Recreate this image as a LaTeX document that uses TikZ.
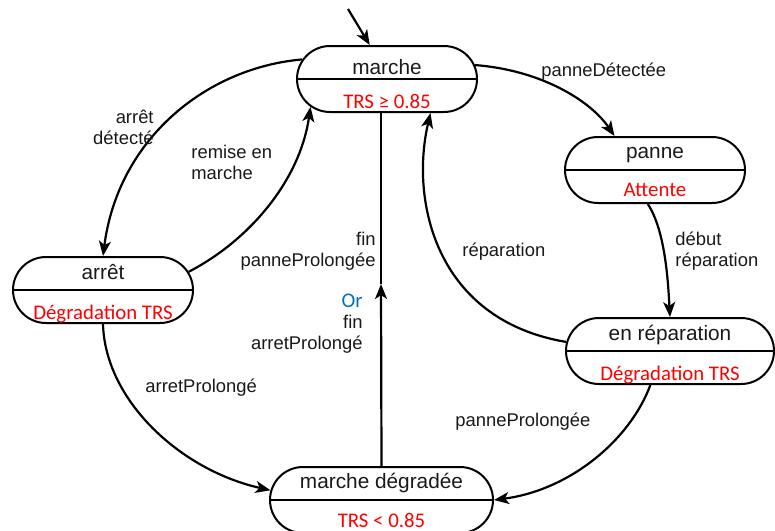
\documentclass[tikz,border=0pt]{standalone}
\usepackage{fontspec}
\setmainfont{Liberation Sans}
\newfontfamily\calibri{Carlito}
\usetikzlibrary{arrows.meta, shapes.misc, calc}
\definecolor{condred}{RGB}{255, 0, 0}
\definecolor{orblue}{RGB}{0, 112, 192}
\definecolor{darkgray}{RGB}{25, 25, 25}

\begin{document}
\begin{tikzpicture}[
        x=0.5pt, y=-0.5pt,
        etat/.style={rounded rectangle, draw, line width=1pt, minimum width=90pt, minimum height=33pt, inner sep=0pt},
        titre/.style={anchor=base, inner sep=0pt, text=darkgray, font=\fontsize{10.4}{10.5}\selectfont},
        cond/.style={anchor=base, inner sep=0pt, text=condred, font=\calibri\fontsize{10.4}{10.5}\selectfont},
        lbl/.style={inner sep=0pt, text=darkgray, font=\fontsize{9.2}{10.5}\selectfont},
        arrow/.style={-{Stealth[length=7.5pt, width=6pt, inset=2pt]}, line width=1.1pt}
    ]
        \useasboundingbox (0,0) rectangle (775,530);

        % States
        \node[etat] (marche) at (387,79) {};
        \node[etat] (panne) at (655,170) {};
        \node[etat] (arret) at (103,290) {};
        \node[etat, minimum width=104pt] (reparation) at (670,351) {};
        \node[etat, minimum width=111.5pt] (degradee) at (381.5,500) {};

        % Dividers
        \foreach \s in {marche, panne, arret, reparation, degradee}
            \draw[line width=1pt] (\s.west) -- (\s.east);

        % State texts
        \node[titre, yshift=2.5pt] (marche-t) at (marche.center) {marche};
        \node[cond, yshift=-14.5pt] (marche-c) at (marche.center) {TRS ≥ 0.85};
        \node[titre, yshift=6pt] (panne-t) at (panne.center) {panne};
        \node[cond, yshift=-13pt] (panne-c) at (panne.center) {Attente};
        \node[titre, yshift=5.5pt] (arret-t) at (arret.center) {arrêt};
        \node[cond, yshift=-14.5pt] (arret-c) at (arret.center) {Dégradation TRS};
        \node[titre, yshift=5.5pt] (reparation-t) at (reparation.center) {en réparation};
        \node[cond, yshift=-14.5pt] (reparation-c) at (reparation.center) {Dégradation TRS};
        \node[titre, yshift=6pt] (degradee-t) at (degradee.center) {marche dégradée};
        \node[cond, yshift=-13.5pt] (degradee-c) at (degradee.center) {TRS < 0.85};

        % Initial state
        \coordinate (debut) at (348,9);
        \draw[arrow] (debut) -- (marche.117);

        % Connections
        \draw[arrow] (marche.167) .. controls (205,68) and (118,140) .. (arret.north);
        \draw[arrow] (arret.12) .. controls (250,240) and (300,180) .. (marche.200);
        \draw[arrow] (marche.9) .. controls (540,70) and (590,100) .. (panne.140);
        \draw[arrow] (panne.258) .. controls (665,230) and (668,280) .. (reparation.north);
        \draw[arrow] (reparation.175) .. controls (435,320) and (410,200) .. (marche.-38);
        \draw[arrow] (reparation.240) .. controls (630,440) and (570,490) .. (degradee.east);
        \draw[arrow] (arret.south) .. controls (105,400) and (180,470) .. (degradee.175);
        \coordinate (jonction) at (381,284);
        \draw[arrow] (degradee.north) -- (jonction);
        \draw[line width=0.7pt] (jonction) -- (jonction |- marche.south);

        % Labels
        \node[lbl, anchor=east, align=right] (l-detecte) at (154,127) {arrêt\\détecté};
        \node[lbl, anchor=west, align=left] (l-remise) at (191,162) {remise en\\marche};
        \node[lbl, anchor=west] (l-panne) at (541,72) {panneDétectée};
        \node[lbl, anchor=west, align=left] (l-debut) at (675,251) {début\\réparation};
        \node[lbl, anchor=west] (l-reparation) at (462,252) {réparation};
        \node[lbl, anchor=west] (l-panneprol) at (455,422) {panneProlongée};
        \node[lbl, anchor=west] (l-arretprol) at (145,388) {arretProlongé};
        \node[lbl, anchor=east, align=right] (l-finpanne) at (376,251) {fin\\panneProlongée};
        \node[lbl, anchor=east, align=right] (l-finarret) at (363,324) {{\calibri\fontsize{10.4}{10.5}\selectfont\color{orblue}Or}\\fin\\arretProlongé};
    \end{tikzpicture}
\end{document}
